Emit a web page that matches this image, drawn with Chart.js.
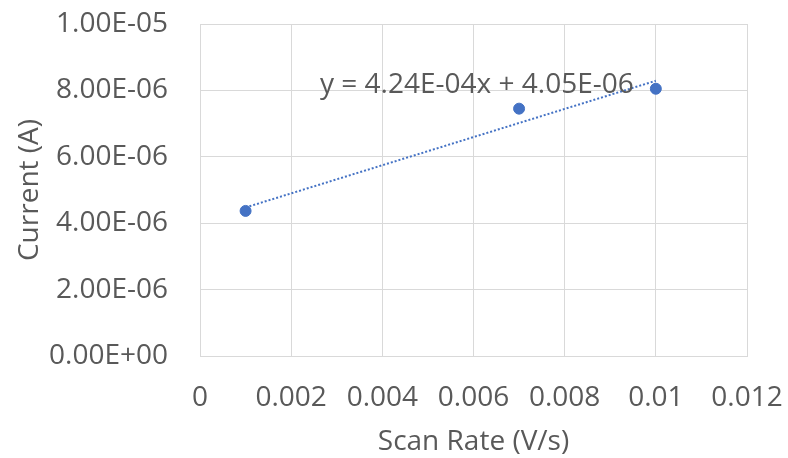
<!DOCTYPE html>
<html>
<head>
<meta charset="utf-8">
<script src="https://cdn.jsdelivr.net/npm/chart.js@4.4.0/dist/chart.umd.min.js"></script>
<style>
  html, body { margin: 0; padding: 0; background: #fff; }
  #wrap { width: 788px; height: 458px; }
</style>
</head>
<body>
<div id="wrap"><canvas id="myChart" width="788" height="458"></canvas></div>
<script>
// scan rate (V/s) and peak current (A)
const scanRates = [0.001, 0.007, 0.01];
const currents = [4.37e-6, 7.45e-6, 8.05e-6];

// linear trendline as shown on the chart
const trendSlope = 4.24e-4;
const trendIntercept = 4.05e-6;
const trendLabel = 'y = 4.24E-04x + 4.05E-06';

const xTicks = [0, 0.002, 0.004, 0.006, 0.008, 0.01, 0.012];
const yTicks = [0, 2e-6, 4e-6, 6e-6, 8e-6, 1e-5];

const textColor = '#595959';
const gridColor = '#d9d9d9';
const blue = '#4472C4';
const fontFamily = '"Open Sans", "DejaVu Sans", sans-serif';

function sci(v) {
  let s = v.toExponential(2).toUpperCase();
  let [m, e] = s.split('E');
  let sign = e[0] === '-' ? '-' : '+';
  let digits = e.replace(/[+-]/, '');
  if (digits.length < 2) digits = '0' + digits;
  return m + 'E' + sign + digits;
}

const points = scanRates.map((x, i) => ({ x: x, y: currents[i] }));
const xMin = Math.min(...scanRates);
const xMax = Math.max(...scanRates);
const trend = [
  { x: xMin, y: trendSlope * xMin + trendIntercept },
  { x: xMax, y: trendSlope * xMax + trendIntercept }
];

const equationPlugin = {
  id: 'equation',
  afterDatasetsDraw(chart) {
    const ctx = chart.ctx;
    const area = chart.chartArea;
    ctx.save();
    ctx.font = '28px ' + fontFamily;
    ctx.fillStyle = textColor;
    ctx.textAlign = 'left';
    ctx.textBaseline = 'alphabetic';
    ctx.fillText(trendLabel, area.left + 120, area.top + 69);
    ctx.restore();
  }
};

const ctx = document.getElementById('myChart').getContext('2d');
const chart = new Chart(ctx, {
  type: 'scatter',
  data: {
    datasets: [
      {
        label: 'Current',
        data: points,
        backgroundColor: blue,
        borderColor: blue,
        pointRadius: 5.5,
        pointHoverRadius: 5.5,
        showLine: false
      },
      {
        label: 'Trend',
        data: trend,
        showLine: true,
        borderColor: blue,
        borderWidth: 2,
        borderDash: [2, 2],
        pointRadius: 0,
        fill: false
      }
    ]
  },
  options: {
    responsive: false,
    animation: false,
    layout: { padding: { left: 13, right: 41, top: 24, bottom: 0 } },
    plugins: {
      legend: { display: false },
      tooltip: { enabled: false }
    },
    scales: {
      x: {
        type: 'linear',
        min: 0,
        max: 0.012,
        afterBuildTicks: (scale) => { scale.ticks = xTicks.map(v => ({ value: v })); },
        afterFit: (scale) => {
          scale.height = 102;
          scale.paddingLeft = 0;
          scale.paddingRight = 0;
        },
        ticks: {
          color: textColor,
          font: { family: fontFamily, size: 28 },
          padding: 25,
          callback: (v) => String(Number(v.toFixed(3)))
        },
        grid: { color: gridColor, lineWidth: 1, drawTicks: false },
        border: { color: gridColor, width: 1 },
        title: {
          display: true,
          text: 'Scan Rate (V/s)',
          color: textColor,
          font: { family: fontFamily, size: 28, lineHeight: 1.0 },
          padding: { top: 0, bottom: 2 }
        }
      },
      y: {
        type: 'linear',
        min: 0,
        max: 1e-5,
        afterBuildTicks: (scale) => { scale.ticks = yTicks.map(v => ({ value: v })); },
        afterFit: (scale) => {
          scale.width = 187;
          scale.paddingTop = 0;
          scale.paddingBottom = 0;
        },
        ticks: {
          color: textColor,
          font: { family: fontFamily, size: 28 },
          padding: 32,
          callback: (v) => sci(v)
        },
        grid: { color: gridColor, lineWidth: 1, drawTicks: false },
        border: { color: gridColor, width: 1 },
        title: {
          display: true,
          text: 'Current (A)',
          color: textColor,
          font: { family: fontFamily, size: 28 },
          padding: { top: 0, bottom: 0 }
        }
      }
    }
  },
  plugins: [equationPlugin]
});
</script>
</body>
</html>
